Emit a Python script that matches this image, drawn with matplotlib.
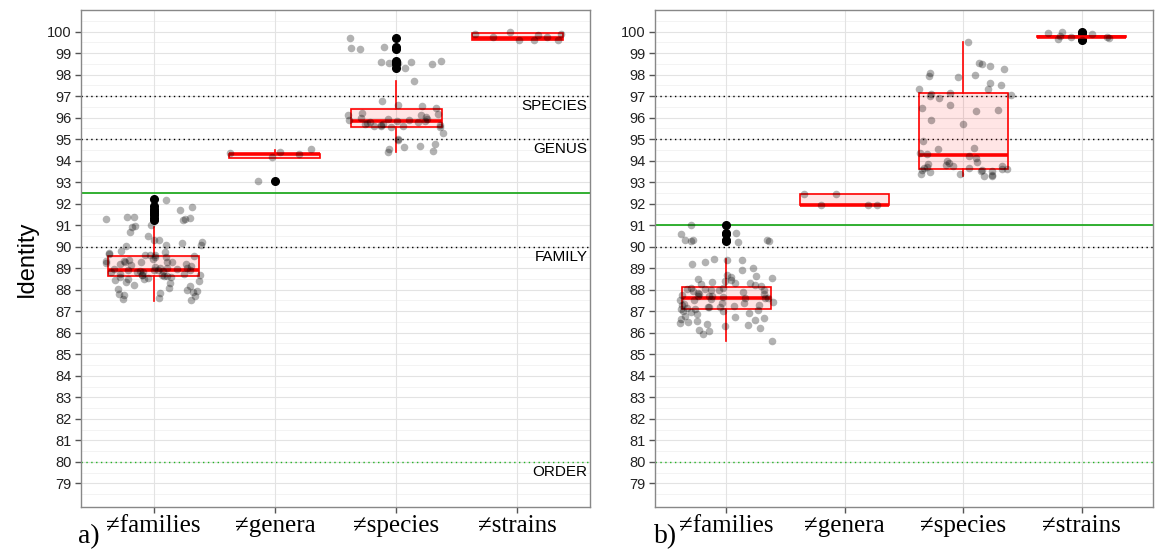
import numpy as np
import matplotlib
matplotlib.use("Agg")
import matplotlib.pyplot as plt

# ---------------- data ----------------
categories = ["≠families", "≠genera", "≠species", "≠strains"]

# panel a) identity values per comparison group
a_families = [92.15, 91.85, 91.7, 91.4, 91.4, 91.35, 91.3, 91.3, 91.25, 91.0, 90.95, 90.9,
              90.7, 90.5, 90.3, 90.3, 90.2, 90.15, 90.1, 90.1, 90.05, 89.8, 89.75, 89.7,
              89.65, 89.6, 89.6, 89.55, 89.5, 89.5, 89.45, 89.4, 89.35, 89.35, 89.3, 89.3,
              89.3, 89.25, 89.2, 89.2, 89.15, 89.1, 89.05, 89.0, 89.0, 88.95, 88.95, 88.9,
              88.9, 88.9, 88.85, 88.85, 88.8, 88.8, 88.8, 88.75, 88.75, 88.7, 88.7, 88.7,
              88.65, 88.65, 88.6, 88.6, 88.55, 88.5, 88.5, 88.45, 88.4, 88.35, 88.3, 88.2,
              88.15, 88.1, 88.05, 88.0, 87.95, 87.9, 87.85, 87.8, 87.75, 87.7, 87.6, 87.55,
              87.5, 89.3, 89.0, 88.7, 89.6, 88.9]
a_genera = [94.35, 94.55, 94.15, 94.4, 93.05, 94.3]
a_species = [99.7, 99.3, 99.25, 99.2, 98.65, 98.6, 98.55, 98.55, 98.5, 98.6, 98.3, 97.7,
             96.75, 96.6, 96.55, 96.45, 96.2, 96.15, 96.1, 96.1, 96.05, 96.0, 95.95, 95.95,
             95.9, 95.9, 95.85, 95.85, 95.8, 95.8, 95.75, 95.7, 95.7, 95.65, 95.65, 95.6,
             95.6, 95.6, 95.55, 95.55, 95.3, 95.0, 94.95, 94.75, 94.7, 94.65, 94.55, 94.45,
             94.4]
a_strains = [99.6, 99.9, 100.0, 99.6, 99.9, 99.75, 99.75, 99.6, 99.85]

# panel a) box statistics: (whisker low, q1, median, q3, whisker high)
a_box_stats = [(87.48, 88.62, 88.9, 89.55, 90.92),
               (94.11, 94.11, 94.3, 94.33, 94.5),
               (94.42, 95.57, 95.85, 96.42, 97.68),
               (99.6, 99.62, 99.7, 99.92, 99.92)]
a_outliers = [[91.25, 91.35, 91.45, 91.55, 91.65, 91.75, 91.9, 92.2],
              [93.05],
              [98.3, 98.5, 98.6, 98.65, 99.2, 99.3, 99.7],
              []]

# panel b) identity values per comparison group
b_families = [91.0, 90.95, 90.65, 90.6, 90.3, 90.3, 90.3, 90.25, 90.25, 90.2, 89.45, 89.4,
              89.4, 89.3, 89.2, 89.0, 88.9, 88.7, 88.65, 88.6, 88.55, 88.5, 88.45, 88.4,
              88.35, 88.3, 88.25, 88.2, 88.15, 88.1, 88.1, 88.05, 88.05, 88.0, 88.0, 87.95,
              87.9, 87.85, 87.8, 87.8, 87.75, 87.7, 87.7, 87.65, 87.6, 87.6, 87.55, 87.5,
              87.5, 87.45, 87.4, 87.4, 87.35, 87.3, 87.3, 87.25, 87.2, 87.2, 87.15, 87.1,
              87.1, 87.05, 87.0, 86.95, 86.9, 86.85, 86.8, 86.75, 86.7, 86.65, 86.6, 86.55,
              86.5, 86.45, 86.4, 86.35, 86.3, 86.2, 86.15, 86.1, 85.95, 85.6, 87.6, 88.0,
              87.2, 87.7, 88.3, 87.0]
b_genera = [92.45, 92.45, 91.95, 91.95, 91.95]
b_species = [99.5, 98.55, 98.5, 98.4, 98.25, 98.05, 98.0, 97.95, 97.9, 97.6, 97.5, 97.35,
             97.35, 97.15, 97.1, 97.05, 97.0, 96.9, 96.6, 96.45, 96.35, 96.3, 95.9, 95.7,
             94.9, 94.6, 94.55, 94.35, 94.3, 94.2, 94.1, 94.0, 93.95, 93.9, 93.85, 93.8,
             93.75, 93.75, 93.7, 93.65, 93.65, 93.6, 93.6, 93.55, 93.55, 93.5, 93.5, 93.45,
             93.4, 93.4, 93.35, 93.3, 93.3]
b_strains = [99.75, 99.8, 99.7, 99.65, 99.95, 99.75, 99.6, 100.0, 99.9]

b_box_stats = [(85.6, 87.1, 87.62, 88.11, 89.42),
               (91.94, 91.94, 91.95, 92.45, 92.45),
               (93.28, 93.62, 94.26, 97.12, 99.49),
               (99.76, 99.76, 99.76, 99.77, 99.77)]
b_outliers = [[90.25, 90.3, 90.6, 90.65, 91.0],
              [],
              [],
              [99.6, 99.65, 99.95, 100.0]]

# reference thresholds
species_cut = 97
genus_cut = 95
family_cut = 90
order_cut = 80
a_green_cut = 92.5
b_green_cut = 91.0

y_ticks = list(range(79, 101))

# ---------------- drawing ----------------
W, H = 1155, 553
fig = plt.figure(figsize=(W / 100, H / 100), dpi=100)

sans = ["Liberation Sans", "DejaVu Sans"]
serif = ["Liberation Serif", "DejaVu Serif"]


def panel(rect, groups, stats, outliers, green_cut, with_labels, tag):
    ax = fig.add_axes(rect)
    ax.set_xlim(0.4, 4.6)
    ax.set_ylim(77.9, 101.0)

    # grid
    for y in y_ticks:
        ax.axhline(y, color="#e3e3e3", lw=0.8, zorder=0)
        ax.axhline(y + 0.5, color="#f3f3f3", lw=0.7, zorder=0)
    ax.axhline(78.5, color="#f3f3f3", lw=0.7, zorder=0)
    for x in range(1, 5):
        ax.axvline(x, color="#e3e3e3", lw=0.8, zorder=0)

    # threshold lines
    for yv in (species_cut, genus_cut, family_cut):
        ax.axhline(yv, color="black", lw=1.0, ls=(0, (1, 2.5)), zorder=1)
    ax.axhline(order_cut, color="#22b422", lw=1.0, ls=(0, (1, 2.5)), zorder=1)
    ax.axhline(green_cut, color="#22aa22", lw=1.3, zorder=1)

    # boxplots
    bstats = []
    for (lo, q1, med, q3, hi), fl in zip(stats, outliers):
        bstats.append(dict(whislo=lo, q1=q1, med=med, q3=q3, whishi=hi, fliers=fl))
    ax.bxp(bstats, positions=[1, 2, 3, 4], widths=0.75, patch_artist=True,
           showcaps=False,
           boxprops=dict(facecolor=(1, 0, 0, 0.1), edgecolor="red", lw=1.2),
           medianprops=dict(color="red", lw=2.6),
           whiskerprops=dict(color="red", lw=1.2),
           flierprops=dict(marker="o", markerfacecolor="black", markeredgecolor="black",
                           markersize=5.5),
           zorder=2)

    # jittered observations
    rng = np.random.default_rng(7 if tag == "a)" else 11)
    for i, vals in enumerate(groups):
        vals = np.asarray(vals)
        xs = (i + 1) + rng.uniform(-0.4, 0.4, size=len(vals))
        ax.scatter(xs, vals, s=30, color="black", alpha=0.3, lw=0, zorder=3)

    ax.set_yticks(y_ticks)
    ax.set_yticklabels([str(t) for t in y_ticks], fontsize=10.5, family=sans, color="#222222")
    ax.set_xticks([1, 2, 3, 4])
    ax.set_xticklabels(categories, fontsize=18, family=serif)
    ax.tick_params(axis="both", length=4, width=1, color="#555555")
    ax.tick_params(axis="x", pad=2)
    ax.tick_params(axis="y", pad=3)
    for sp in ax.spines.values():
        sp.set_color("#888888")
        sp.set_linewidth(1.0)

    if with_labels:
        for yv, txt in ((species_cut, "SPECIES"), (genus_cut, "GENUS"),
                        (family_cut, "FAMILY"), (order_cut, "ORDER")):
            ax.text(4.58, yv - 0.15, txt, ha="right", va="top", fontsize=11,
                    family=sans, zorder=4)
    return ax


ax1 = panel([81 / W, 46 / H, (590 - 81) / W, (507 - 10) / H],
            [a_families, a_genera, a_species, a_strains],
            a_box_stats, a_outliers, a_green_cut, True, "a)")
ax2 = panel([655 / W, 46 / H, (1153 - 655) / W, (507 - 10) / H],
            [b_families, b_genera, b_species, b_strains],
            b_box_stats, b_outliers, b_green_cut, False, "b)")

ax1.set_ylabel("Identity", fontsize=17, family=sans, labelpad=6)

fig.text(89 / W, 1 - 537 / H, "a)", fontsize=20, family=serif, ha="center", va="center")
fig.text(666 / W, 1 - 537 / H, "b)", fontsize=20, family=serif, ha="center", va="center")

fig.savefig("out.png", dpi=100)
